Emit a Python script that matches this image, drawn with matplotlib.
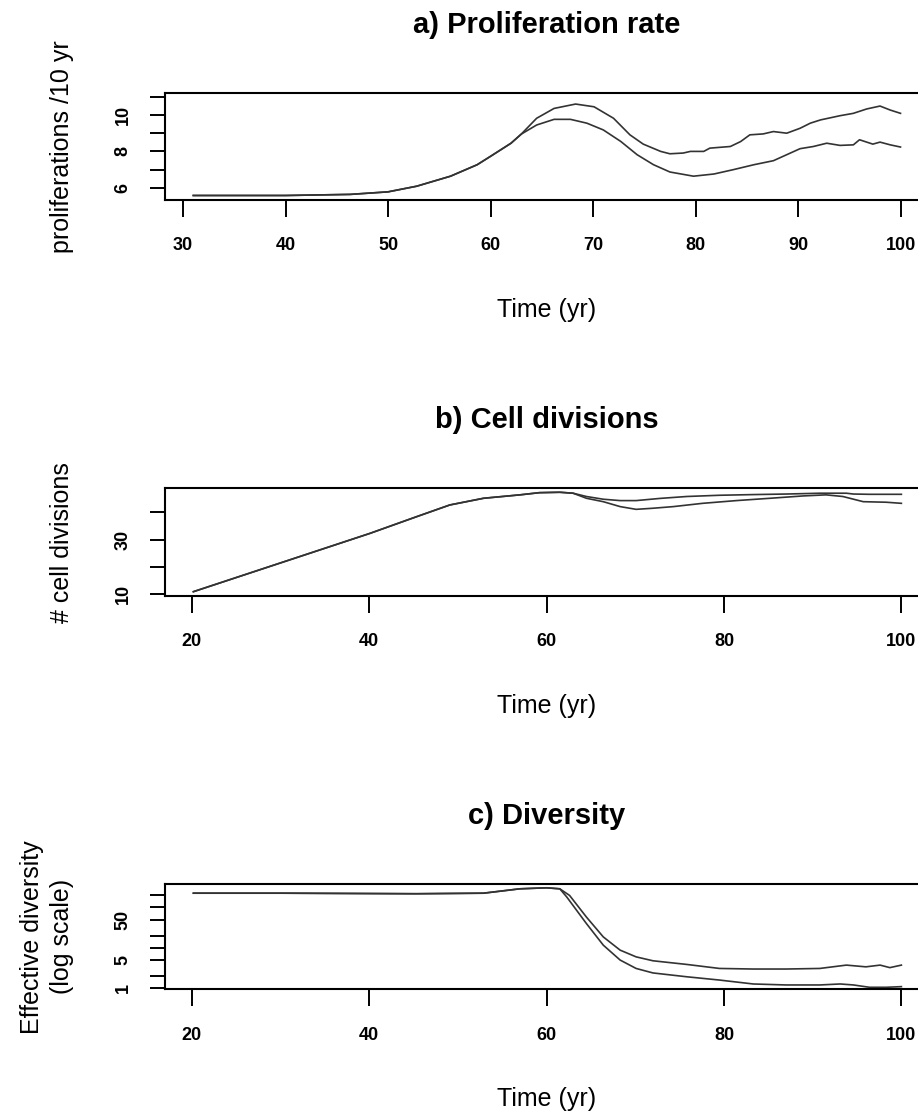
import matplotlib
matplotlib.use("Agg")
import matplotlib.pyplot as plt
from matplotlib.ticker import FixedLocator, NullLocator

# ---------------------------------------------------------------------------
# Data: two simulation runs per panel, shared up to where they diverge
# ---------------------------------------------------------------------------

# a) proliferation rate (proliferations per 10 yr)
prolif_shared_t = [31.0, 40.0, 46.3, 50.0, 52.8, 56.1, 58.7, 60.0, 62.0, 63.0]
prolif_shared_v = [5.58, 5.58, 5.64, 5.78, 6.09, 6.64, 7.27, 7.73, 8.45, 8.95]
prolif_hi_t = [64.5, 66.2, 68.3, 70.1, 72.0, 73.6, 74.9, 76.6, 77.5, 78.8,
               79.5, 80.8, 81.4, 83.4, 84.4, 85.3, 86.6, 87.6, 88.9, 90.2,
               91.2, 92.2, 94.1, 95.4, 96.7, 98.0, 99.0, 100.0]
prolif_hi_v = [9.82, 10.36, 10.60, 10.45, 9.82, 8.91, 8.40, 8.00, 7.87, 7.91,
               8.00, 8.00, 8.18, 8.27, 8.54, 8.91, 8.96, 9.09, 9.00, 9.27,
               9.55, 9.73, 9.96, 10.09, 10.33, 10.49, 10.27, 10.09]
prolif_lo_t = [64.5, 66.2, 67.8, 69.4, 71.0, 72.7, 74.3, 75.9, 77.5, 79.8,
               81.8, 83.7, 85.7, 87.6, 88.9, 90.2, 91.5, 92.8, 94.1, 95.4,
               96.0, 97.3, 98.0, 99.0, 100.0]
prolif_lo_v = [9.45, 9.76, 9.76, 9.55, 9.18, 8.55, 7.82, 7.27, 6.87, 6.64,
               6.76, 7.00, 7.27, 7.49, 7.82, 8.15, 8.27, 8.45, 8.33, 8.36,
               8.64, 8.40, 8.51, 8.36, 8.24]

# b) cumulative cell divisions
div_shared_t = [20.2, 40.1, 45.35, 49.1, 52.9, 57.0, 59.2, 61.5, 63.0]
div_shared_v = [10.96, 32.3, 38.4, 42.7, 45.15, 46.4, 47.2, 47.35, 47.0]
div_hi_t = [64.5, 66.4, 68.3, 70.1, 72.8, 75.8, 79.5, 83.3, 87.0, 90.8,
            93.8, 94.6, 96.4, 100.0]
div_hi_v = [45.8, 44.8, 44.3, 44.3, 45.1, 45.8, 46.25, 46.5, 46.7, 47.0,
            47.0, 46.7, 46.6, 46.6]
div_lo_t = [64.5, 66.4, 68.3, 70.1, 72.0, 74.3, 77.6, 81.4, 85.2, 88.9,
            91.5, 93.4, 95.7, 98.3, 100.0]
div_lo_v = [45.15, 43.9, 42.1, 41.1, 41.5, 42.1, 43.3, 44.3, 45.15, 46.0,
            46.4, 45.8, 43.9, 43.7, 43.3]

# c) effective clonal diversity (log scale)
divers_shared_t = [20.2, 30.3, 45.3, 52.9, 57.0, 60.0, 61.5]
divers_shared_v = [226, 226, 219, 226, 290, 307, 290]
divers_hi_t = [62.6, 64.5, 66.4, 68.3, 70.1, 72.0, 75.8, 79.5, 83.3, 87.0,
               90.8, 93.8, 96.0, 97.6, 98.7, 100.0]
divers_hi_v = [199, 58, 18.7, 8.8, 6.0, 4.8, 3.9, 3.1, 3.0, 3.0,
               3.1, 3.75, 3.4, 3.75, 3.25, 3.75]
divers_lo_t = [62.3, 64.5, 66.4, 68.3, 70.1, 72.0, 75.8, 79.5, 83.3, 87.0,
               90.8, 93.1, 94.6, 96.4, 98.3, 100.0]
divers_lo_v = [180, 40, 11.7, 5.0, 3.1, 2.4, 1.93, 1.6, 1.28, 1.21,
               1.21, 1.28, 1.21, 1.06, 1.06, 1.1]

# axis ticks / labels
prolif_xticks = [30, 40, 50, 60, 70, 80, 90, 100]
prolif_yticks = [6, 7, 8, 9, 10, 11]
prolif_ylabels = ["6", "", "8", "", "10", ""]
age_xticks = [20, 40, 60, 80, 100]
div_yticks = [10, 20, 30, 40]
div_ylabels = ["10", "", "30", ""]
divers_yticks = [1, 2, 5, 10, 20, 50, 100, 200]
divers_ylabels = ["1", "", "5", "", "", "50", "", ""]

# ---------------------------------------------------------------------------
# Layout (pixel based, 918 x 1114 canvas)
# ---------------------------------------------------------------------------
W, H = 918, 1114
LINE = "#333333"

plt.rcParams.update({
    "font.family": ["Liberation Sans", "DejaVu Sans"],
    "axes.linewidth": 1.5,
})


def rect(left, top, right, bottom):
    return [left / W, 1 - bottom / H, (right - left) / W, (bottom - top) / H]


def fx(x):
    return x / W


def fy(y):
    return 1 - y / H


def style_axes(ax, xticks, yticks, ylabels):
    ax.xaxis.set_major_locator(FixedLocator(xticks))
    ax.set_xticklabels([str(t) for t in xticks], fontsize=13,
                       fontweight="bold")
    ax.yaxis.set_major_locator(FixedLocator(yticks))
    ax.yaxis.set_minor_locator(NullLocator())
    ax.set_yticklabels(ylabels, fontsize=13, fontweight="bold",
                       rotation=90, va="center")
    ax.tick_params(axis="x", direction="out", length=12, width=1.4, pad=15)
    ax.tick_params(axis="y", direction="out", length=11, width=1.4, pad=13)
    for s in ax.spines.values():
        s.set_linewidth(1.5)


def panel_text(title, top_box, bottom_box, ylabel, ylab_x=62):
    cx = (165 + 928) / 2
    fig.text(fx(cx), fy(top_box - 60), title, ha="center", va="baseline",
             fontsize=21, fontweight="bold")
    fig.text(fx(cx), fy(bottom_box + 110), "Time (yr)", ha="center",
             va="center", fontsize=18)
    cy = (top_box + bottom_box) / 2
    fig.text(fx(ylab_x), fy(cy), ylabel, ha="center", va="center",
             rotation=90, fontsize=18, linespacing=1.3,
             multialignment="center")


fig = plt.figure(figsize=(W / 100, H / 100), dpi=100)

# --- a) proliferation rate ------------------------------------------------
ax1 = fig.add_axes(rect(165, 93.3, 928.8, 199.5))
for t, v in ((prolif_hi_t, prolif_hi_v), (prolif_lo_t, prolif_lo_v)):
    ax1.plot(prolif_shared_t + t, prolif_shared_v + v, color=LINE, lw=1.2)
ax1.set_xlim(28.24, 102.76)
ax1.set_ylim(5.36, 11.19)
style_axes(ax1, prolif_xticks, prolif_yticks, prolif_ylabels)
panel_text("a) Proliferation rate", 93.3, 199.5, "proliferations /10 yr")

# --- b) cell divisions ----------------------------------------------------
ax2 = fig.add_axes(rect(165, 488.3, 928, 596))
for t, v in ((div_hi_t, div_hi_v), (div_lo_t, div_lo_v)):
    ax2.plot(div_shared_t + t, div_shared_v + v, color=LINE, lw=1.2)
ax2.set_xlim(17.0, 103.0)
ax2.set_ylim(9.38, 48.8)
style_axes(ax2, age_xticks, div_yticks, div_ylabels)
panel_text("b) Cell divisions", 488.3, 596, "# cell divisions")

# --- c) diversity ---------------------------------------------------------
ax3 = fig.add_axes(rect(165, 884.3, 928, 989.3))
for t, v in ((divers_hi_t, divers_hi_v), (divers_lo_t, divers_lo_v)):
    ax3.plot(divers_shared_t + t, divers_shared_v + v, color=LINE, lw=1.2)
ax3.set_yscale("log")
ax3.set_xlim(17.0, 103.0)
ax3.set_ylim(0.945, 375)
style_axes(ax3, age_xticks, divers_yticks, divers_ylabels)
panel_text("c) Diversity", 884.3, 989.3, "Effective diversity\n(log scale)",
           ylab_x=47)

fig.savefig("out.png", dpi=100)
